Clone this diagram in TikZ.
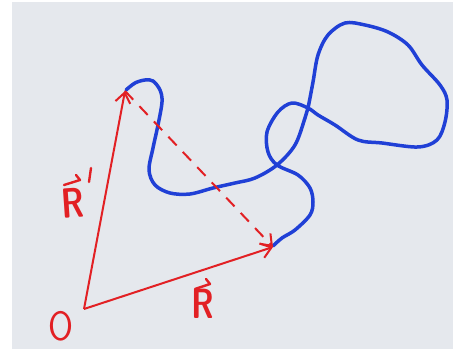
\documentclass[tikz,border=0pt]{standalone}
\usetikzlibrary{arrows.meta}
\definecolor{paper}{RGB}{229,232,237}
\definecolor{inkred}{RGB}{226,32,36}
\definecolor{inkblue}{RGB}{32,64,214}
\tikzset{
  vecline/.style={draw=inkred, line width=2pt, -{Straight Barb[length=10pt,width=15pt,line width=2pt]}},
  dashvec/.style={vecline, dash pattern=on 12pt off 9pt},
  chain/.style={draw=inkblue, line width=3.5pt, line cap=round, line join=round},
  lbl/.style={text=inkred, inner sep=0pt, font=\Huge\sffamily\bfseries},
  accent/.style={draw=inkred, line width=2.4pt, line cap=round, line join=round}
}
\begin{document}
\begin{tikzpicture}[x=1pt,y=-1pt]
\useasboundingbox (0,0) rectangle (453,350);
\fill[white] (0,0) rectangle (453,350);
\fill[paper] (12,2) rectangle (453,349);
\coordinate (O) at (84,309);
\coordinate (Rp) at (125,91);
\coordinate (R) at (273,247);
% polymer chain
\draw[chain] plot[smooth, tension=0.55] coordinates {
(126,90) (135,83) (145,80) (153,81) (160,90) (162,102) (158,125) (153,148)
(149,170) (155,185) (170,193) (190,194) (213,188) (235,183) (255,178)
(277,165) (295,145) (305,118) (308,108) (313,82) (318,55) (328,35)
(345,23) (365,25) (388,32) (408,45) (422,65) (440,85) (447,100)
(445,122) (437,140) (418,147) (382,143) (358,140) (335,125) (318,115)
(308,108) (292,103) (278,112) (267,132) (268,152) (277,165) (298,175)
(310,188) (313,202) (310,215) (295,230) (282,238) (273,246)};
% vectors
\draw[vecline] (O) -- (Rp);
\draw[vecline] (O) -- (R);
\draw[dashvec] (Rp) -- (R);
% labels
\node[lbl] (lR) at (203,304) {\scalebox{1.3}[1.7]{R}};
\draw[accent] (195,289) -- (210,284) -- (206,279);
\node[lbl, rotate=4] (lRp) at (73,203) {\scalebox{1.3}[1.7]{R}};
\draw[accent] (64,185) -- (80,180) -- (76,175);
\draw[accent] (91,168) -- (89,182);
\node[lbl, font=\Huge\sffamily] (lO) at (61,326) {\scalebox{1.45}[1.65]{O}};
\end{tikzpicture}
\end{document}
